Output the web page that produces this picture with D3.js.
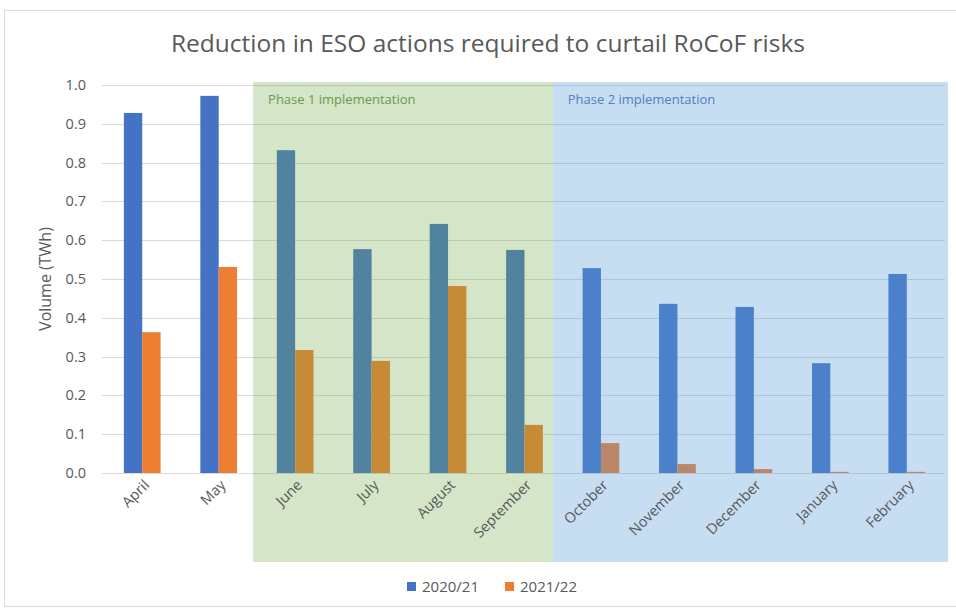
<!DOCTYPE html>
<html>
<head>
<meta charset="utf-8">
<script src="https://cdn.jsdelivr.net/npm/d3@7"></script>
<style>
  body { margin: 0; background: #fff; }
  text { font-family: "Open Sans", "Noto Sans", sans-serif; fill: #595959; }
</style>
</head>
<body>
<svg id="chart" width="956" height="612"></svg>
<script>
const months = ["April", "May", "June", "July", "August", "September", "October", "November", "December", "January", "February"];
const series = ["2020/21", "2021/22"];
const values2020 = [0.928, 0.972, 0.832, 0.577, 0.642, 0.575, 0.528, 0.436, 0.428, 0.283, 0.513];
const values2021 = [0.363, 0.531, 0.317, 0.289, 0.482, 0.124, 0.077, 0.023, 0.010, 0.003, 0.003];
const yTicks = [0, 0.1, 0.2, 0.3, 0.4, 0.5, 0.6, 0.7, 0.8, 0.9, 1.0];
const phaseNames = ["Phase 1 implementation", "Phase 2 implementation"];
const phaseFrom = [1.95, 5.87];   // in category units
const phaseTo = [5.87, 11.04];
const colors = ["#4472C4", "#ED7D31"];

const margin = { top: 85, left: 104, right: 11, bottom: 139 };
const width = 956, height = 612;
const svg = d3.select("#chart");

// outer border
svg.append("rect")
  .attr("x", 4.5).attr("y", 10.5)
  .attr("width", 960).attr("height", 596)
  .attr("fill", "none").attr("stroke", "#d9d9d9");

const x = d3.scaleBand().domain(months)
  .range([margin.left, width - margin.right])
  .paddingInner(0.52).paddingOuter(0.26);
const xs = d3.scaleBand().domain(series).range([0, x.bandwidth()]);
const xLin = d3.scaleLinear().domain([0, months.length]).range([margin.left, width - margin.right]);
const y = d3.scaleLinear().domain([0, 1]).range([height - margin.bottom, margin.top]);

// gridlines
svg.append("g")
  .selectAll("line").data(yTicks).join("line")
  .attr("x1", margin.left - 2).attr("x2", width - margin.right)
  .attr("y1", d => Math.round(y(d)) + 0.5).attr("y2", d => Math.round(y(d)) + 0.5)
  .attr("stroke", "#d9d9d9");

// bars
const rows = months.map((m, i) => ({ m, v: [values2020[i], values2021[i]] }));
svg.append("g").selectAll("g").data(rows).join("g")
  .attr("transform", d => `translate(${x(d.m)},0)`)
  .selectAll("rect").data(d => d.v.map((v, j) => ({ s: series[j], v, j }))).join("rect")
  .attr("x", d => xs(d.s))
  .attr("width", xs.bandwidth())
  .attr("y", d => y(d.v))
  .attr("height", d => y(0) - y(d.v))
  .attr("fill", d => colors[d.j]);

// phase overlays
const phaseFill = ["#70AD47", "#5B9BD5"];
const phaseOpacity = [0.3, 0.34];
const phaseText = ["#6a9a4c", "#4f7fc4"];
phaseNames.forEach((p, i) => {
  svg.append("rect")
    .attr("x", xLin(phaseFrom[i])).attr("y", y(1) - 3)
    .attr("width", xLin(phaseTo[i]) - xLin(phaseFrom[i]))
    .attr("height", 562 - (y(1) - 3))
    .attr("fill", phaseFill[i]).attr("fill-opacity", phaseOpacity[i]);
  svg.append("text")
    .attr("x", xLin(phaseFrom[i]) + 15).attr("y", y(1) + 19)
    .style("font-size", "13px").style("fill", phaseText[i])
    .text(p);
});

// y axis labels
svg.append("g").selectAll("text").data(yTicks).join("text")
  .attr("x", 86).attr("y", d => y(d) + 5)
  .attr("text-anchor", "end")
  .style("font-size", "14.5px")
  .text(d => d3.format(".1f")(d));

// x axis labels
svg.append("g").selectAll("text").data(months).join("text")
  .attr("transform", d => `translate(${x(d) + x.bandwidth() / 2 + 8},${y(0) + 13}) rotate(-45)`)
  .attr("text-anchor", "end")
  .style("font-size", "14.5px")
  .text(d => d);

// y axis title
svg.append("text")
  .attr("transform", `translate(51,${(y(0) + y(1)) / 2}) rotate(-90)`)
  .attr("text-anchor", "middle")
  .style("font-size", "16px")
  .text("Volume (TWh)");

// title
svg.append("text")
  .attr("x", 488).attr("y", 52)
  .attr("text-anchor", "middle")
  .style("font-size", "24.5px")
  .text("Reduction in ESO actions required to curtail RoCoF risks");

// legend
const legend = svg.append("g").attr("transform", "translate(407,580)");
series.forEach((s, i) => {
  const g = legend.append("g").attr("transform", `translate(${i * 98},0)`);
  g.append("rect").attr("width", 9).attr("height", 9).attr("y", 2).attr("fill", colors[i]);
  g.append("text").attr("x", 15).attr("y", 12).style("font-size", "15px").text(s);
});
</script>
</body>
</html>
